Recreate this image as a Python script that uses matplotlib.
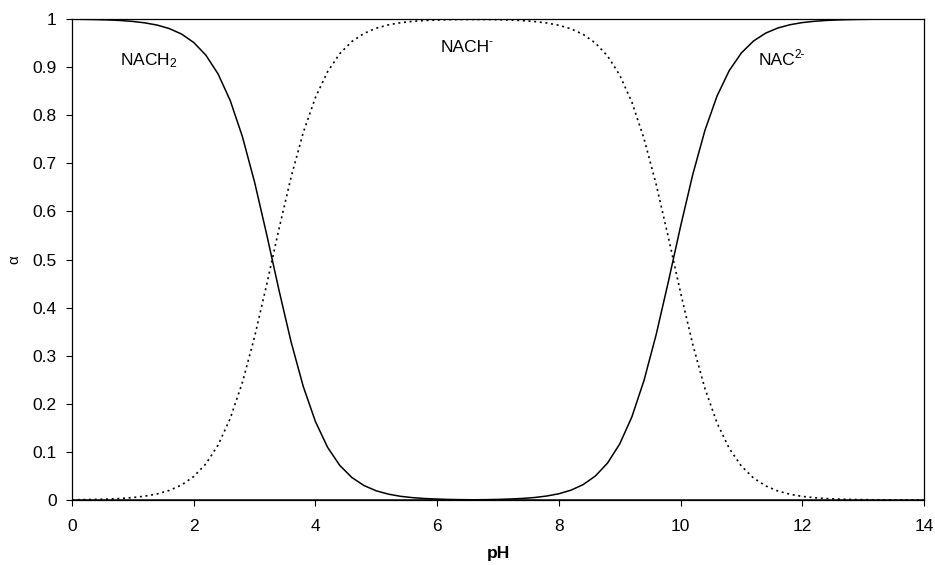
import matplotlib
matplotlib.use("Agg")
import matplotlib.pyplot as plt

plt.rcParams['font.family'] = ['Liberation Sans', 'DejaVu Sans']
plt.rcParams['mathtext.default'] = 'regular'

ph = [0.0, 0.2, 0.4, 0.6, 0.8, 1.0, 1.2, 1.4, 1.6, 1.8,
      2.0, 2.2, 2.4, 2.6, 2.8, 3.0, 3.2, 3.4, 3.6, 3.8,
      4.0, 4.2, 4.4, 4.6, 4.8, 5.0, 5.2, 5.4, 5.6, 5.8,
      6.0, 6.2, 6.4, 6.6, 6.8, 7.0, 7.2, 7.4, 7.6, 7.8,
      8.0, 8.2, 8.4, 8.6, 8.8, 9.0, 9.2, 9.4, 9.6, 9.8,
      10.0, 10.2, 10.4, 10.6, 10.8, 11.0, 11.2, 11.4, 11.6, 11.8,
      12.0, 12.2, 12.4, 12.6, 12.8, 13.0, 13.2, 13.4, 13.6, 13.8, 14.0]

nach2 = [0.9995, 0.9992, 0.9987, 0.9980, 0.9968, 0.9949, 0.9919, 0.9873, 0.9800, 0.9687,
         0.9512, 0.9248, 0.8859, 0.8305, 0.7555, 0.6610, 0.5516, 0.4370, 0.3288, 0.2361,
         0.1632, 0.1096, 0.0720, 0.0467, 0.0300, 0.0191, 0.0122, 0.0077, 0.0049, 0.0031,
         0.0020, 0.0012, 0.0008, 0.0005, 0.0003, 0.0002, 0.0001, 0.0001, 0.0001, 0.0000,
         0.0000, 0.0000, 0.0000, 0.0000, 0.0000, 0.0000, 0.0000, 0.0000, 0.0000, 0.0000,
         0.0000, 0.0000, 0.0000, 0.0000, 0.0000, 0.0000, 0.0000, 0.0000, 0.0000, 0.0000,
         0.0000, 0.0000, 0.0000, 0.0000, 0.0000, 0.0000, 0.0000, 0.0000, 0.0000, 0.0000, 0.0000]

nach = [0.0005, 0.0008, 0.0013, 0.0020, 0.0032, 0.0051, 0.0081, 0.0127, 0.0200, 0.0313,
        0.0488, 0.0752, 0.1141, 0.1695, 0.2445, 0.3390, 0.4484, 0.5630, 0.6712, 0.7639,
        0.8368, 0.8904, 0.9280, 0.9533, 0.9700, 0.9809, 0.9878, 0.9923, 0.9951, 0.9968,
        0.9979, 0.9986, 0.9989, 0.9990, 0.9989, 0.9985, 0.9978, 0.9966, 0.9947, 0.9917,
        0.9870, 0.9795, 0.9680, 0.9501, 0.9232, 0.8835, 0.8272, 0.7512, 0.6558, 0.5459,
        0.4314, 0.3237, 0.2320, 0.1601, 0.1073, 0.0705, 0.0457, 0.0293, 0.0187, 0.0119,
        0.0075, 0.0048, 0.0030, 0.0019, 0.0012, 0.0008, 0.0005, 0.0003, 0.0002, 0.0001, 0.0001]

nac2 = [0.0000, 0.0000, 0.0000, 0.0000, 0.0000, 0.0000, 0.0000, 0.0000, 0.0000, 0.0000,
        0.0000, 0.0000, 0.0000, 0.0000, 0.0000, 0.0000, 0.0000, 0.0000, 0.0000, 0.0000,
        0.0000, 0.0000, 0.0000, 0.0000, 0.0000, 0.0000, 0.0000, 0.0000, 0.0000, 0.0001,
        0.0001, 0.0002, 0.0003, 0.0005, 0.0008, 0.0013, 0.0021, 0.0033, 0.0052, 0.0083,
        0.0130, 0.0205, 0.0321, 0.0499, 0.0768, 0.1165, 0.1728, 0.2488, 0.3442, 0.4541,
        0.5687, 0.6763, 0.7681, 0.8400, 0.8927, 0.9295, 0.9543, 0.9707, 0.9813, 0.9881,
        0.9925, 0.9952, 0.9970, 0.9981, 0.9988, 0.9992, 0.9995, 0.9997, 0.9998, 0.9999, 0.9999]

x_ticks = [0, 2, 4, 6, 8, 10, 12, 14]
y_ticks = [0, 0.1, 0.2, 0.3, 0.4, 0.5, 0.6, 0.7, 0.8, 0.9, 1]
y_tick_labels = ['0', '0.1', '0.2', '0.3', '0.4', '0.5', '0.6', '0.7', '0.8', '0.9', '1']

fig = plt.figure(figsize=(9.35, 5.65), dpi=100)
ax = fig.add_axes([0.0770, 0.1150, 0.9112, 0.8514])

ax.plot(ph, nach2, color='black', lw=1.1, solid_capstyle='butt', solid_joinstyle='round')
ax.plot(ph, nach, color='black', lw=1.2, linestyle=(0, (1.2, 2.2)))
ax.plot(ph, nac2, color='black', lw=1.1, solid_capstyle='butt', solid_joinstyle='round')

ax.set_xlim(0, 14)
ax.set_ylim(0, 1)
ax.set_xticks(x_ticks)
ax.set_xticklabels([str(v) for v in x_ticks])
ax.set_yticks(y_ticks)
ax.set_yticklabels(y_tick_labels)
ax.tick_params(axis='both', direction='out', length=4, width=0.8, labelsize=12.5, colors='black')
ax.tick_params(axis='x', pad=10)
ax.tick_params(axis='y', pad=7)
for s in ax.spines.values():
    s.set_color('black')
    s.set_linewidth(0.9)

ax.text(0.79, 0.904, r'NACH$_{2}$', fontsize=12.5, ha='left', va='baseline')
t2 = ax.text(6.05, 0.931, 'NACH', fontsize=12.5, ha='left', va='baseline')
ax.annotate('-', xy=(1.0, 1.0), xycoords=t2, xytext=(-0.5, -6), textcoords='offset points',
            fontsize=8.5, ha='left', va='bottom')
t3 = ax.text(11.29, 0.904, 'NAC', fontsize=12.5, ha='left', va='baseline')
ax.annotate('2-', xy=(1.0, 1.0), xycoords=t3, xytext=(-1, -6), textcoords='offset points',
            fontsize=8.5, ha='left', va='bottom')

ax.set_xlabel('pH', fontsize=12.5, fontweight='bold', labelpad=8)
ax.set_ylabel('α', fontsize=11, labelpad=8)

fig.savefig('out.png', dpi=100)
